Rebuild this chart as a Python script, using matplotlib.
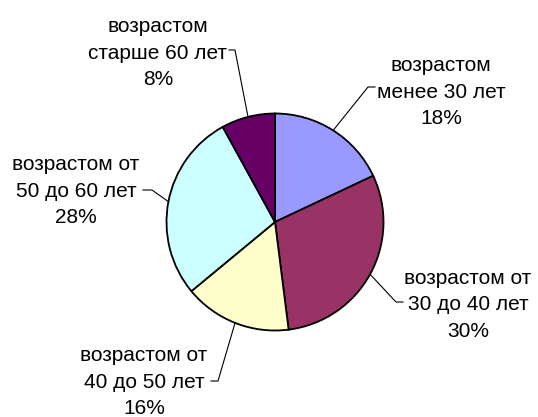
import numpy as np
import matplotlib
matplotlib.use('Agg')
import matplotlib.pyplot as plt

plt.rcParams['font.family'] = ['Liberation Sans', 'DejaVu Sans']

# data, clockwise from 12 o'clock
groups = ['возрастом\nменее 30 лет', 'возрастом от\n30 до 40 лет', 'возрастом от\n40 до 50 лет',
          'возрастом от\n50 до 60 лет', 'возрастом\nстарше 60 лет']
shares = [18, 30, 16, 28, 8]
colors = ['#9999FF', '#993366', '#FFFFCC', '#CCFFFF', '#660066']

# layout (pixel-like coords, y up)
W, H = 538, 417
cx, cy, r = 275, H - 222, 108.5
# label centres (middle line) and leader elbows / tick ends
label_xy = [(441, H - 92), (468, H - 305), (144, H - 382), (76, H - 191), (158, H - 53)]
elbows = [((368, H - 87), (375, H - 87)),
          ((396, H - 302), (403, H - 302)),
          ((218, H - 381), (211, H - 381)),
          ((152, H - 190), (143, H - 190)),
          ((235, H - 50), (229, H - 50))]

fig = plt.figure(figsize=(W / 100, H / 100), dpi=100)
ax = fig.add_axes([0, 0, 1, 1])

wedges, _ = ax.pie(shares, colors=colors, startangle=90, counterclock=False,
                   center=(cx, cy), radius=r, frame=True,
                   wedgeprops=dict(edgecolor='black', linewidth=1.3))
ax.set_xlim(0, W)
ax.set_ylim(0, H)
ax.set_aspect('equal')
ax.axis('off')

for w, g, s, (tx, ty), (e1, e2) in zip(wedges, groups, shares, label_xy, elbows):
    ang = np.deg2rad((w.theta1 + w.theta2) / 2)
    px, py = cx + r * np.cos(ang), cy + r * np.sin(ang)
    ax.plot([px, e1[0], e2[0]], [py, e1[1], e2[1]], color='black', lw=0.8)
    ax.text(tx, ty, f'{g}\n{s}%', ha='center', va='center', fontsize=15,
            linespacing=1.5, color='black')

fig.savefig('out.png', dpi=100)
